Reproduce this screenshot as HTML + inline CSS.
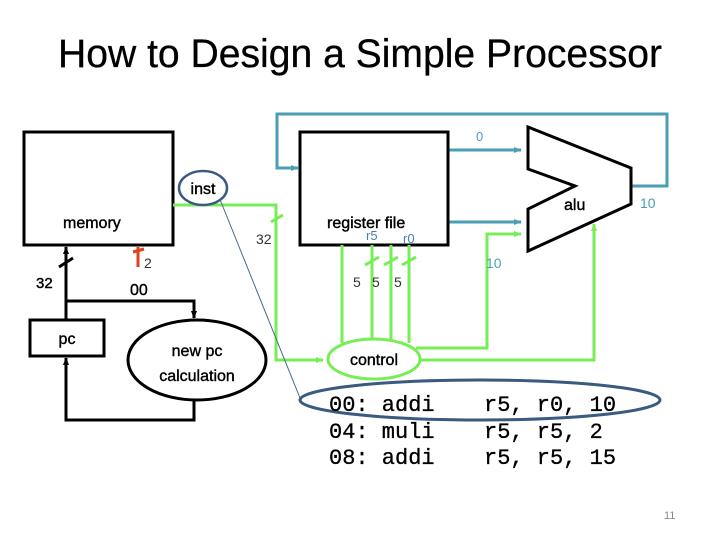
<!DOCTYPE html>
<html><head><meta charset="utf-8"><style>
html,body{margin:0;padding:0;background:#fff;}
svg{display:block;}
</style></head><body>
<svg width="720" height="540" viewBox="0 0 720 540" xmlns="http://www.w3.org/2000/svg" font-family="Liberation Sans, sans-serif">
<defs>
<marker id="ab" markerWidth="8" markerHeight="8" refX="7" refY="4" orient="auto" markerUnits="userSpaceOnUse"><path d="M0,1 L8,4 L0,7 Z" fill="#000"/></marker>
<marker id="at" markerWidth="8" markerHeight="8" refX="7" refY="4" orient="auto" markerUnits="userSpaceOnUse"><path d="M0,1 L8,4 L0,7 Z" fill="#4a9fb5"/></marker>
<marker id="ag" markerWidth="8" markerHeight="8" refX="7" refY="4" orient="auto" markerUnits="userSpaceOnUse"><path d="M0,1 L8,4 L0,7 Z" fill="#77ee55"/></marker>
</defs>
<text x="58" y="67" font-size="40" textLength="604" lengthAdjust="spacingAndGlyphs" stroke="#000" stroke-width="0.3">How to Design a Simple Processor</text>

<polyline points="630,186 667,186 667,114 277,114 277,168 298,168" fill="none" stroke="#4a9fb5" stroke-width="3" marker-end="url(#at)"/>
<line x1="448" y1="150" x2="521" y2="150" stroke="#4a9fb5" stroke-width="3" marker-end="url(#at)"/>
<line x1="448" y1="222" x2="521" y2="222" stroke="#4a9fb5" stroke-width="3" marker-end="url(#at)"/>
<text x="476" y="141" font-size="13" fill="#4a9fb5">0</text>
<text x="640" y="208" font-size="14" fill="#4a9fb5">10</text>

<rect x="24" y="132" width="149" height="113" fill="#fff" stroke="#000" stroke-width="3"/>
<text x="63" y="228" font-size="16" stroke="#000" stroke-width="0.4">memory</text>
<rect x="300" y="132" width="148" height="113" fill="#fff" stroke="#000" stroke-width="3"/>
<text x="327" y="228" font-size="16" stroke="#000" stroke-width="0.4">register file</text>
<text x="366" y="240" font-size="13" fill="#4a7fb5">r5</text>
<text x="403" y="243" font-size="13" fill="#4a7fb5">r0</text>

<polygon points="528,127 631,168 631,204 528,251 528,209 575,186 528,169" fill="#fff" stroke="#000" stroke-width="3"/>
<text x="564" y="210" font-size="16" stroke="#000" stroke-width="0.4">alu</text>

<polyline points="173,205 276,205 276,360 323,360" fill="none" stroke="#77ee55" stroke-width="3" marker-end="url(#ag)"/>
<line x1="271" y1="222" x2="283" y2="215" stroke="#77ee55" stroke-width="3"/>
<text x="256" y="244" font-size="14" fill="#333">32</text>
<g stroke="#77ee55" stroke-width="3">
<line x1="342" y1="245" x2="342" y2="343"/>
<line x1="372" y1="245" x2="372" y2="340"/>
<line x1="391" y1="245" x2="391" y2="340"/>
<line x1="409" y1="245" x2="409" y2="343"/>
<line x1="365" y1="265" x2="379" y2="257"/>
<line x1="384" y1="265" x2="398" y2="257"/>
<line x1="402" y1="265" x2="416" y2="257"/>
</g>
<text x="353" y="287" font-size="14" fill="#333">5</text>
<text x="372" y="287" font-size="14" fill="#333">5</text>
<text x="394" y="287" font-size="14" fill="#333">5</text>
<polyline points="416,348 487,348 487,234 521,234" fill="none" stroke="#77ee55" stroke-width="3" marker-end="url(#ag)"/>
<polyline points="419,360 594,360 594,224" fill="none" stroke="#77ee55" stroke-width="3" marker-end="url(#ag)"/>
<text x="486" y="268" font-size="14" fill="#4a9fb5">10</text>
<ellipse cx="374" cy="359" rx="46" ry="20" fill="#fff" stroke="#77ee55" stroke-width="3"/>
<text x="374" y="365" font-size="16" text-anchor="middle" stroke="#000" stroke-width="0.4">control</text>

<line x1="219" y1="197" x2="300" y2="398" stroke="#4a6a8a" stroke-width="1"/>
<ellipse cx="203" cy="188" rx="24" ry="17" fill="#fff" stroke="#3a5a80" stroke-width="2.5"/>
<text x="203" y="194" font-size="16" text-anchor="middle" stroke="#000" stroke-width="0.4">inst</text>

<line x1="66" y1="320" x2="66" y2="247" stroke="#000" stroke-width="3" marker-end="url(#ab)"/>
<line x1="59" y1="267" x2="73" y2="258" stroke="#000" stroke-width="3"/>
<text x="36" y="288" font-size="15" stroke="#000" stroke-width="0.4">32</text>
<polyline points="66,301 194,301 194,318" fill="none" stroke="#000" stroke-width="3" marker-end="url(#ab)"/>
<polyline points="194,400 194,420 66,420 66,358" fill="none" stroke="#000" stroke-width="3" marker-end="url(#ab)"/>
<rect x="30" y="320" width="74" height="36" fill="#fff" stroke="#000" stroke-width="3"/>
<text x="67" y="344" font-size="16" text-anchor="middle" stroke="#000" stroke-width="0.4">pc</text>
<ellipse cx="197" cy="360" rx="69" ry="40" fill="#fff" stroke="#000" stroke-width="3"/>
<text x="197" y="356" font-size="16" text-anchor="middle" stroke="#000" stroke-width="0.4">new pc</text>
<text x="197" y="381" font-size="16" text-anchor="middle" stroke="#000" stroke-width="0.4">calculation</text>

<line x1="138" y1="247" x2="138" y2="267" stroke="#e04020" stroke-width="3"/>
<line x1="133" y1="252" x2="144" y2="249" stroke="#e04020" stroke-width="3"/>
<text x="144" y="268" font-size="14" fill="#333">2</text>
<text x="130" y="295" font-size="16" stroke="#000" stroke-width="0.4">00</text>

<ellipse cx="480" cy="400" rx="180" ry="20" fill="none" stroke="#3a5a80" stroke-width="3"/>
<g font-family="Liberation Mono, monospace" font-size="22" stroke="#000" stroke-width="0.3">
<text x="329" y="411">00: addi</text><text x="484" y="411">r5, r0, 10</text>
<text x="329" y="438">04: muli</text><text x="484" y="438">r5, r5, 2</text>
<text x="329" y="464">08: addi</text><text x="484" y="464">r5, r5, 15</text>
</g>
<text x="664" y="519" font-size="11" fill="#888">11</text>
</svg>
</body></html>
